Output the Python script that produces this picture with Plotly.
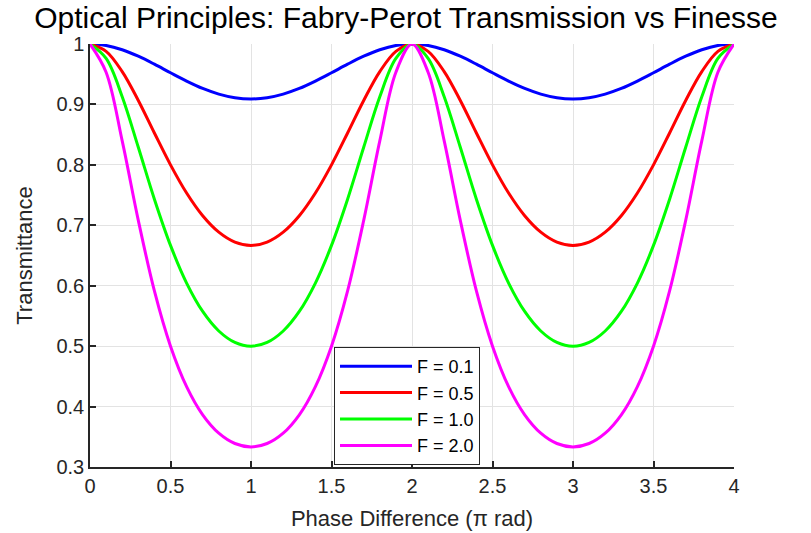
import plotly.graph_objects as go

# Phase difference (in units of pi rad)
phase = [0.0, 0.1, 0.2, 0.3, 0.4, 0.5, 0.6, 0.7, 0.8, 0.9,
         1.0, 1.1, 1.2, 1.3, 1.4, 1.5, 1.6, 1.7, 1.8, 1.9,
         2.0, 2.1, 2.2, 2.3, 2.4, 2.5, 2.6, 2.7, 2.8, 2.9,
         3.0, 3.1, 3.2, 3.3, 3.4, 3.5, 3.6, 3.7, 3.8, 3.9, 4.0]

t_f01 = [1.0, 0.9976, 0.9905, 0.9798, 0.9666, 0.9524, 0.9386, 0.9264, 0.9171, 0.9111,
         0.9091, 0.9111, 0.9171, 0.9264, 0.9386, 0.9524, 0.9666, 0.9798, 0.9905, 0.9976,
         1.0, 0.9976, 0.9905, 0.9798, 0.9666, 0.9524, 0.9386, 0.9264, 0.9171, 0.9111,
         0.9091, 0.9111, 0.9171, 0.9264, 0.9386, 0.9524, 0.9666, 0.9798, 0.9905, 0.9976, 1.0]

t_f05 = [1.0, 0.9879, 0.9544, 0.9066, 0.8527, 0.8, 0.7534, 0.7158, 0.6886, 0.6722,
         0.6667, 0.6722, 0.6886, 0.7158, 0.7534, 0.8, 0.8527, 0.9066, 0.9544, 0.9879,
         1.0, 0.9879, 0.9544, 0.9066, 0.8527, 0.8, 0.7534, 0.7158, 0.6886, 0.6722,
         0.6667, 0.6722, 0.6886, 0.7158, 0.7534, 0.8, 0.8527, 0.9066, 0.9544, 0.9879, 1.0]

t_f10 = [1.0, 0.9761, 0.9128, 0.8291, 0.7432, 0.6667, 0.6044, 0.5574, 0.5251, 0.5062,
         0.5, 0.5062, 0.5251, 0.5574, 0.6044, 0.6667, 0.7432, 0.8291, 0.9128, 0.9761,
         1.0, 0.9761, 0.9128, 0.8291, 0.7432, 0.6667, 0.6044, 0.5574, 0.5251, 0.5062,
         0.5, 0.5062, 0.5251, 0.5574, 0.6044, 0.6667, 0.7432, 0.8291, 0.9128, 0.9761, 1.0]

t_f20 = [1.0, 0.9533, 0.8396, 0.7081, 0.5914, 0.5, 0.4331, 0.3864, 0.3560, 0.3389,
         0.3333, 0.3389, 0.3560, 0.3864, 0.4331, 0.5, 0.5914, 0.7081, 0.8396, 0.9533,
         1.0, 0.9533, 0.8396, 0.7081, 0.5914, 0.5, 0.4331, 0.3864, 0.3560, 0.3389,
         0.3333, 0.3389, 0.3560, 0.3864, 0.4331, 0.5, 0.5914, 0.7081, 0.8396, 0.9533, 1.0]

series_names = ["F = 0.1", "F = 0.5", "F = 1.0", "F = 2.0"]
series_values = [t_f01, t_f05, t_f10, t_f20]
series_colors = ["#0000ff", "#ff0000", "#00ff00", "#ff00ff"]

x_tickvals = [0, 0.5, 1, 1.5, 2, 2.5, 3, 3.5, 4]
x_ticktext = ["0", "0.5", "1", "1.5", "2", "2.5", "3", "3.5", "4"]
y_tickvals = [0.3, 0.4, 0.5, 0.6, 0.7, 0.8, 0.9, 1.0]
y_ticktext = ["0.3", "0.4", "0.5", "0.6", "0.7", "0.8", "0.9", "1"]

FONT = "Liberation Sans, Arial, sans-serif"
DARK = "#262626"

fig = go.Figure()
for name, vals, col in zip(series_names, series_values, series_colors):
    fig.add_trace(go.Scatter(x=phase, y=vals, mode="lines", name=name,
                             line=dict(color=col, width=3, shape="spline")))

fig.update_layout(
    width=811, height=533,
    margin=dict(l=90, r=77, t=44, b=66, autoexpand=False),
    paper_bgcolor="white", plot_bgcolor="white",
    font=dict(family=FONT, color=DARK),
    title=dict(text="Optical Principles: Fabry-Perot Transmission vs Finesse",
               x=406 / 811, xanchor="center",
               y=1 - 17.5 / 533, yanchor="middle", yref="container",
               font=dict(size=30, color="black", family=FONT)),
    showlegend=True,
    legend=dict(x=(334 - 90) / 644, y=(467 - 347) / 423, xanchor="left", yanchor="top",
                bgcolor="white", bordercolor=DARK, borderwidth=1,
                font=dict(size=18, color="black", family=FONT),
                itemwidth=72, tracegroupgap=0),
)
fig.update_xaxes(range=[0, 4], tickvals=x_tickvals, ticktext=x_ticktext,
                 showline=True, linecolor=DARK, linewidth=1.5, mirror=False,
                 ticks="inside", ticklen=6, tickcolor=DARK, tickwidth=1.5,
                 showgrid=True, gridcolor="#e3e3e3", gridwidth=1, zeroline=False,
                 automargin=False,
                 tickfont=dict(size=20, color=DARK),
                 title=dict(text="Phase Difference (π rad)", font=dict(size=22, color=DARK), standoff=15))
fig.update_yaxes(range=[0.3, 1.0], tickvals=y_tickvals, ticktext=y_ticktext,
                 showline=True, linecolor=DARK, linewidth=1.5, mirror=False,
                 ticks="inside", ticklen=6, tickcolor=DARK, tickwidth=1.5,
                 showgrid=True, gridcolor="#e3e3e3", gridwidth=1, zeroline=False,
                 automargin=False,
                 tickfont=dict(size=20, color=DARK),
                 title=dict(text="Transmittance", font=dict(size=22, color=DARK), standoff=18))

fig.write_html("out.html")
